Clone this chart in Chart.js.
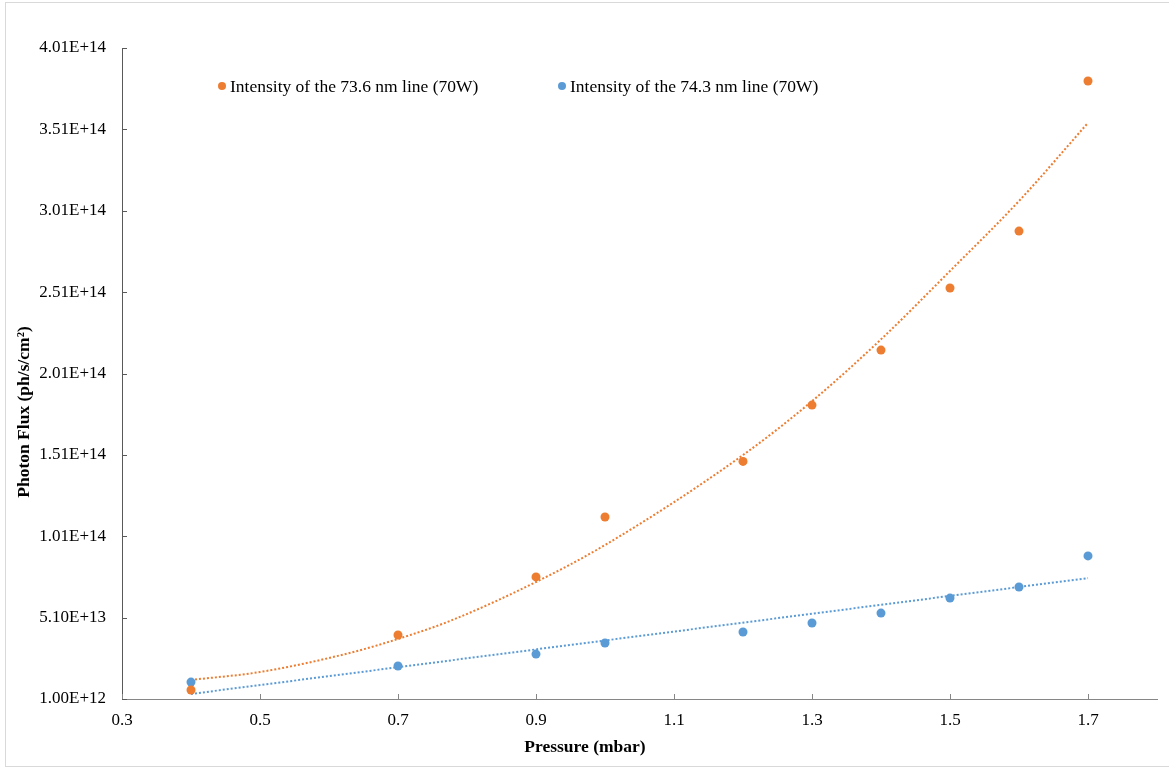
<!DOCTYPE html>
<html>
<head>
<meta charset="utf-8">
<script src="https://cdn.jsdelivr.net/npm/chart.js@4.4.1/dist/chart.umd.min.js"></script>
<style>
    body { margin: 0; background: #fff; overflow: hidden; }
    #marco { position: absolute; left: 5px; top: 2px; width: 1200px; height: 763px; border: 1px solid #d9d9d9; }
    #grafica { position: absolute; left: 0; top: 0; }
</style>
</head>
<body>
<div id="marco"></div>
<canvas id="grafica" width="1169" height="767"></canvas>
<script>
// datos
const presion = [0.4, 0.7, 0.9, 1.0, 1.2, 1.3, 1.4, 1.5, 1.6, 1.7];
const flujo736 = [6.5e12, 4.03e13, 7.6e13, 1.128e14, 1.47e14, 1.816e14, 2.154e14, 2.535e14, 2.885e14, 3.807e14];
const flujo743 = [1.14e13, 2.13e13, 2.86e13, 3.54e13, 4.22e13, 4.77e13, 5.38e13, 6.3e13, 6.98e13, 8.89e13];
// lineas de tendencia (leidas)
const tendX736 = [0.4, 0.5, 0.63, 0.7, 0.775, 0.9, 1.0, 1.2, 1.3, 1.4, 1.5, 1.6, 1.7];
const tendY736 = [1.27e13, 1.76e13, 2.93e13, 3.79e13, 4.89e13, 7.29e13, 9.56e13, 1.509e14, 1.84e14, 2.22e14, 2.64e14, 3.07e14, 3.55e14];
const tendX743 = [0.4, 1.7];
const tendY743 = [4.1e12, 7.53e13];
// ejes
const xTicks = [0.3, 0.5, 0.7, 0.9, 1.1, 1.3, 1.5, 1.7];
const yTicks = [1.0e12, 5.1e13, 1.01e14, 1.51e14, 2.01e14, 2.51e14, 3.01e14, 3.51e14, 4.01e14];
const yTickLabels = ["1.00E+12", "5.10E+13", "1.01E+14", "1.51E+14", "2.01E+14", "2.51E+14", "3.01E+14", "3.51E+14", "4.01E+14"];
const nombres = ["Intensity of the 73.6 nm line (70W)", "Intensity of the 74.3 nm line (70W)"];
const tituloX = "Pressure (mbar)";
const tituloY = "Photon Flux (ph/s/cm\u00B2)";

const naranja = "#ED7D31";
const azul = "#5B9BD5";
const fuente = "'Liberation Serif', 'Times New Roman', serif";

function pares(xs, ys) {
    return xs.map((x, i) => ({ x: x, y: ys[i] }));
}

//dibuja marcas de los ejes hacia adentro, titulos y leyenda
const extras = {
    id: 'extras',
    afterDraw(chart) {
        const ctx = chart.ctx;
        const ca = chart.chartArea;
        const sx = chart.scales.x, sy = chart.scales.y;
        ctx.save();
        ctx.lineWidth = 1;
        ctx.strokeStyle = "#595959";
        yTicks.forEach(v => {
            const py = Math.round(sy.getPixelForValue(v)) + 0.5;
            ctx.beginPath();
            ctx.moveTo(ca.left, py);
            ctx.lineTo(ca.left + 5, py);
            ctx.stroke();
        });
        ctx.strokeStyle = "#868686";
        xTicks.forEach(v => {
            const px = Math.round(sx.getPixelForValue(v)) + 0.5;
            ctx.beginPath();
            ctx.moveTo(px, ca.bottom);
            ctx.lineTo(px, ca.bottom - 5);
            ctx.stroke();
        });
        // titulos
        ctx.fillStyle = "#000";
        ctx.font = "bold 17.5px " + fuente;
        ctx.textAlign = "center";
        ctx.textBaseline = "middle";
        ctx.fillText(tituloX, 585, 747);
        ctx.translate(24, 412);
        ctx.rotate(-Math.PI / 2);
        ctx.fillText(tituloY, 0, 0);
        ctx.restore();
        // leyenda
        ctx.save();
        ctx.font = "17.5px " + fuente;
        ctx.textBaseline = "middle";
        ctx.textAlign = "left";
        const items = [[222, naranja, nombres[0]], [562, azul, nombres[1]]];
        items.forEach(it => {
            ctx.fillStyle = it[1];
            ctx.beginPath();
            ctx.arc(it[0], 86, 4, 0, Math.PI * 2);
            ctx.fill();
            ctx.fillStyle = "#000";
            ctx.fillText(it[2], it[0] + 8, 87);
        });
        ctx.restore();
    }
};

const ctxG = document.getElementById('grafica').getContext('2d');
const grafica = new Chart(ctxG, {
    type: 'scatter',
    data: {
        datasets: [{
            label: nombres[0],
            data: pares(presion, flujo736),
            backgroundColor: naranja,
            borderColor: naranja,
            pointRadius: 4.5,
            pointBorderWidth: 0
        }, {
            label: nombres[1],
            data: pares(presion, flujo743),
            backgroundColor: azul,
            borderColor: azul,
            pointRadius: 4.5,
            pointBorderWidth: 0
        }, {
            label: 'tend736',
            data: pares(tendX736, tendY736),
            showLine: true,
            cubicInterpolationMode: 'monotone',
            borderColor: naranja,
            borderWidth: 2,
            borderDash: [2, 2],
            pointRadius: 0
        }, {
            label: 'tend743',
            data: pares(tendX743, tendY743),
            showLine: true,
            borderColor: azul,
            borderWidth: 2,
            borderDash: [2, 2],
            pointRadius: 0
        }]
    },
    options: {
        responsive: false,
        animation: false,
        events: [],
        layout: { padding: { left: 0, top: 48, right: 12, bottom: 0 } },
        plugins: {
            legend: { display: false },
            tooltip: { enabled: false }
        },
        scales: {
            x: {
                type: 'linear',
                min: 0.3,
                max: 1.8,
                afterBuildTicks: s => { s.ticks = xTicks.map(v => ({ value: v })); },
                afterFit: s => { s.height = 68; },
                grid: { display: false, drawTicks: false },
                border: { display: true, color: "#868686", width: 1 },
                ticks: {
                    padding: 11,
                    color: "#000",
                    font: { family: fuente, size: 17 },
                    callback: v => v.toFixed(1)
                }
            },
            y: {
                type: 'linear',
                min: 1.0e12,
                max: 4.01e14,
                afterBuildTicks: s => { s.ticks = yTicks.map(v => ({ value: v })); },
                afterFit: s => { s.width = 122; },
                grid: { display: false, drawTicks: false },
                border: { display: true, color: "#595959", width: 1 },
                ticks: {
                    padding: 16,
                    color: "#000",
                    font: { family: fuente, size: 17 },
                    callback: (v, i) => yTickLabels[i]
                }
            }
        }
    },
    plugins: [extras]
});
</script>
</body>
</html>
